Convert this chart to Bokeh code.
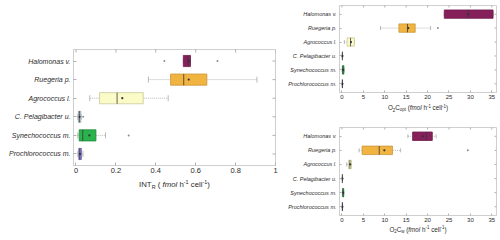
import math
from bokeh.plotting import figure
from bokeh.models import (FactorRange, Range1d, FixedTicker, LinearAxis, CategoricalAxis,
                          ColumnDataSource, Whisker, TeeHead)
from bokeh.core.properties import value
from bokeh.layouts import row, column
from bokeh.embed import file_html
from bokeh.resources import INLINE

# ---------------- data ----------------
species = ["Halomonas v.", "Ruegeria p.", "Agrococcus l.", "C. Pelagibacter u.",
           "Synechococcus m.", "Prochlorococcus m."]
fill_colors = ["#86205a", "#f2b441", "#fbfbc8", "#c3d6e4", "#29b34c", "#8a82d8"]
edge_colors = ["#6e1a4a", "#c8973a", "#c8c89c", "#8fa4b4", "#1f8a3a", "#6862a8"]

# INT_R (fmol h-1 cell-1)
int_wlo = [0.538, 0.363, 0.069, 0.009, 0.009, 0.009]
int_q1 = [0.538, 0.474, 0.118, 0.012, 0.016, 0.014]
int_med = [0.562, 0.540, 0.206, 0.017, 0.034, 0.019]
int_q3 = [0.574, 0.656, 0.337, 0.024, 0.100, 0.027]
int_whi = [0.574, 0.907, 0.462, 0.026, 0.148, 0.035]
int_mean = [0.565, 0.565, 0.232, 0.018, 0.067, 0.020]
int_out_species = ["Halomonas v.", "Halomonas v.", "C. Pelagibacter u.", "Synechococcus m."]
int_out_values = [0.443, 0.709, 0.036, 0.264]
int_ticks = [0, 0.2, 0.4, 0.6, 0.8, 1]
int_tick_labels = ["0", "0.2", "0.4", "0.6", "0.8", "1"]

# O2C_opt (fmol h-1 cell-1)
opt_wlo = [23.9, 9.0, 0.55, 0.05, 0.05, 0.05]
opt_q1 = [23.9, 13.3, 1.2, 0.08, 0.10, 0.08]
opt_med = [29.5, 15.3, 2.0, 0.10, 0.25, 0.10]
opt_q3 = [35.3, 17.1, 2.9, 0.12, 0.45, 0.12]
opt_whi = [35.3, 20.7, 2.9, 0.15, 0.50, 0.15]
opt_mean = [29.5, 15.5, 2.1, 0.10, 0.27, 0.10]
opt_out_species = ["Ruegeria p."]
opt_out_values = [22.4]

# O2C_w (fmol h-1 cell-1)
w_wlo = [15.4, 4.0, 1.1, 0.05, 0.08, 0.05]
w_q1 = [16.5, 4.7, 1.5, 0.08, 0.15, 0.08]
w_med = [19.7, 8.7, 1.85, 0.10, 0.25, 0.10]
w_q3 = [21.1, 11.8, 2.2, 0.12, 0.40, 0.12]
w_whi = [22.0, 13.7, 2.2, 0.15, 0.45, 0.15]
w_mean = [18.9, 9.9, 1.9, 0.10, 0.27, 0.10]
w_out_species = ["Ruegeria p."]
w_out_values = [29.4]

o2_ticks = [0, 5, 10, 15, 20, 25, 30, 35]
o2_tick_labels = ["0", "5", "10", "15", "20", "25", "30", "35"]

# axis titles: (text, kind)  kind: n normal, i italic, sub, sup
int_title = [("INT", "n"), ("R", "sub"), (" ( ", "n"), ("fmol", "i"), (" h", "n"), ("-1", "sup"),
             (" cell", "n"), ("-1", "sup"), (")", "n")]
opt_title = [("O", "n"), ("2", "sub"), ("C", "n"), ("opt", "sub"), (" (", "n"), ("fmol", "i"),
             (" h", "n"), ("-1", "sup"), (" cell", "n"), ("-1", "sup"), (")", "n")]
w_title = [("O", "n"), ("2", "sub"), ("C", "n"), ("w", "sub"), (" (", "n"), ("fmol", "i"),
           (" h", "n"), ("-1", "sup"), (" cell", "n"), ("-1", "sup"), (")", "n")]

# ---------------- style ----------------
FONT = "Liberation Sans"
TXT = "#2b2b2b"
FRAME = "#cfcfcf"
TICK = "#b0b0b0"
PAD = 0.04

W = {"I": 278, "N": 722, "T": 611, "R": 722, "(": 333, ")": 333, "f": 278, "m": 833,
     "o": 556, "l": 222, "h": 556, "-": 333, "1": 556, "c": 500, "e": 556, " ": 278,
     "O": 778, "2": 556, "C": 722, "p": 556, "t": 278, "w": 722}


def tw(s, size):
    return sum(W.get(ch, 556) for ch in s) / 1000.0 * size


def title_strip(width, height, borders, parts, size, center_from_top):
    left_b, right_b = borders
    frame_w = width - left_b - right_b
    p = figure(width=width, height=height, output_backend="svg", toolbar_location=None,
               x_range=Range1d(0, frame_w), y_range=Range1d(0, height),
               min_border_left=left_b, min_border_right=right_b, min_border_top=0, min_border_bottom=0,
               x_axis_location=None, y_axis_location=None)
    p.outline_line_color = None
    p.xgrid.visible = False
    p.ygrid.visible = False
    sizes = [size * 0.7 if k in ("sub", "sup") else size for _, k in parts]
    widths = [tw(t, s) for (t, _), s in zip(parts, sizes)]
    x = frame_w / 2.0 - sum(widths) / 2.0
    yc = height - center_from_top
    xs, ys, texts, fsizes, fstyles = [], [], [], [], []
    for (t, k), s, w in zip(parts, sizes, widths):
        lead = len(t) - len(t.lstrip())
        dy = -0.28 * size if k == "sub" else (0.36 * size if k == "sup" else 0.0)
        txt = t.strip()
        if txt:
            xs.append(x + tw(" " * lead, s))
            ys.append(yc + dy)
            texts.append(txt)
            fsizes.append(f"{s:.2f}px")
            fstyles.append("italic" if k == "i" else "normal")
        x += w
    src = ColumnDataSource(dict(x=xs, y=ys, text=texts, fs=fsizes, st=fstyles))
    p.text(x="x", y="y", text="text", text_font_size="fs", text_font_style="st",
           text_font=value(FONT), text_color=TXT, text_baseline="middle", text_align="left",
           source=src)
    return p


def make_panel(width, height, borders, x_range, ticks, tick_labels, data, outs,
               label_size, tick_size, tick_len, cap):
    wlo, q1, med, q3, whi, mean = data
    left_b, right_b, top_b, bottom_b = borders
    p = figure(width=width, height=height, output_backend="svg", toolbar_location=None,
               y_range=FactorRange(factors=species[::-1], range_padding=PAD),
               x_range=Range1d(*x_range), x_axis_location=None, y_axis_location=None,
               min_border_left=left_b, min_border_right=right_b,
               min_border_top=top_b, min_border_bottom=bottom_b)
    p.outline_line_color = FRAME
    p.outline_line_width = 1
    p.xgrid.visible = False
    p.ygrid.visible = False

    overrides = {t: l for t, l in zip(ticks, tick_labels)}
    ax = LinearAxis(ticker=FixedTicker(ticks=ticks), major_label_overrides=overrides)
    ax.axis_line_color = FRAME
    ax.major_tick_line_color = TICK
    ax.major_tick_in = tick_len
    ax.major_tick_out = 0
    ax.minor_tick_line_color = None
    ax.major_label_text_font = FONT
    ax.major_label_text_color = TXT
    ax.major_label_text_font_size = f"{tick_size}px"
    ax.major_label_standoff = 2
    p.add_layout(ax, "below")

    ay = CategoricalAxis()
    ay.axis_line_color = FRAME
    ay.major_tick_line_color = TICK
    ay.major_tick_in = tick_len
    ay.major_tick_out = 0
    ay.major_label_text_font = FONT
    ay.major_label_text_color = TXT
    ay.major_label_text_font_style = "italic"
    ay.major_label_text_font_size = f"{label_size}px"
    ay.major_label_standoff = 3
    p.add_layout(ay, "left")

    # mirrored inside ticks on the top and right edges of the box
    top = len(species) + len(species) * PAD / 2.0
    p.scatter(x=ticks, y=[top] * len(ticks), marker="dash", angle=math.pi / 2,
              size=2 * tick_len, line_color=TICK, line_width=1)
    p.scatter(x=[x_range[1]] * len(species), y=species, marker="dash",
              size=2 * tick_len, line_color=TICK, line_width=1)

    src = ColumnDataSource(dict(cat=species, wlo=wlo, q1=q1, med=med, q3=q3, whi=whi, mean=mean,
                                fill=fill_colors, edge=edge_colors,
                                y0=[(s, -0.3) for s in species], y1=[(s, 0.3) for s in species]))
    wh = Whisker(source=src, base="cat", lower="wlo", upper="whi", dimension="width",
                 line_color="#a8a8a8", line_width=0.8, line_dash="1 1",
                 lower_head=TeeHead(size=cap, line_color="#a8a8a8", line_width=0.8),
                 upper_head=TeeHead(size=cap, line_color="#a8a8a8", line_width=0.8))
    p.add_layout(wh)
    p.hbar(y="cat", left="q1", right="q3", height=0.6, fill_color="fill", line_color="edge",
           line_width=0.8, source=src)
    p.segment(x0="med", x1="med", y0="y0", y1="y1", line_color="#3a3a3a", line_width=0.8, source=src)
    p.scatter(x="mean", y="cat", size=2.2, marker="circle", fill_color="#333333",
              line_color=None, source=src)
    osrc = ColumnDataSource(dict(cat=outs[0], val=outs[1]))
    p.scatter(x="val", y="cat", size=2.0, marker="circle", fill_color="#8c8c8c",
              line_color=None, source=osrc)
    return p


# left panel: INT_R
pl = make_panel(280, 177, (73, 5, 49, 12), (-0.0125, 1.0), int_ticks, int_tick_labels,
                (int_wlo, int_q1, int_med, int_q3, int_whi, int_mean),
                (int_out_species, int_out_values), 7, 7.5, 3, 6)
tl = title_strip(280, 63, (73, 5), int_title, 7.8, 7.0)

# right top panel: O2C_opt
pt = make_panel(220, 102, (59, 4, 5, 10), (-0.58, 36.1), o2_ticks, o2_tick_labels,
                (opt_wlo, opt_q1, opt_med, opt_q3, opt_whi, opt_mean),
                (opt_out_species, opt_out_values), 5.5, 6, 2, 4)
tt = title_strip(220, 18, (59, 4), opt_title, 6.3, 5.3)

# right bottom panel: O2C_w
pb = make_panel(220, 104, (59, 4, 7, 9), (-0.58, 36.1), o2_ticks, o2_tick_labels,
                (w_wlo, w_q1, w_med, w_q3, w_whi, w_mean),
                (w_out_species, w_out_values), 5.5, 6, 2, 4)
tb = title_strip(220, 16, (59, 4), w_title, 6.3, 5.0)

layout = row(column(pl, tl, spacing=0), column(pt, tt, pb, tb, spacing=0), spacing=0)
open("out.html", "w").write(file_html(layout, INLINE))
